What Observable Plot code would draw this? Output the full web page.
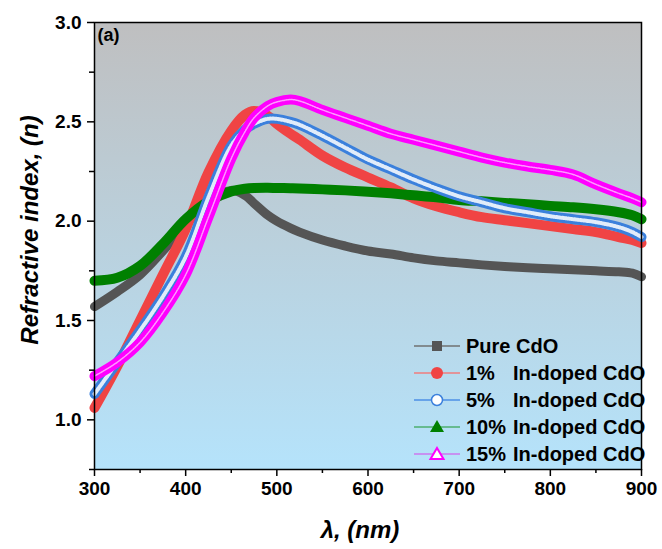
<!DOCTYPE html>
<html><head><meta charset="utf-8">
<script src="https://cdn.jsdelivr.net/npm/d3@7"></script>
<script src="https://cdn.jsdelivr.net/npm/@observablehq/plot@0.6"></script>
<style>
body{margin:0;background:#fff;}
#wrap{position:relative;width:662px;height:549px;}
</style></head><body><div id="wrap"></div>
<script>
const lambda = [300,325,350,375,400,425,450,465,475,490,500,515,525,550,575,600,625,650,675,700,725,750,775,800,825,850,875,890,900];
const pureCdO  = [1.57,1.645,1.73,1.85,1.98,2.10,2.155,2.13,2.09,2.03,2.00,1.965,1.945,1.905,1.875,1.85,1.835,1.815,1.80,1.79,1.78,1.772,1.765,1.76,1.755,1.75,1.745,1.738,1.72];
const doped1   = [1.06,1.27,1.50,1.73,1.96,2.245,2.455,2.535,2.555,2.53,2.49,2.44,2.41,2.33,2.27,2.22,2.17,2.115,2.075,2.045,2.02,2.005,1.99,1.975,1.96,1.945,1.92,1.905,1.89];
const doped5   = [1.13,1.29,1.45,1.62,1.82,2.12,2.38,2.46,2.49,2.515,2.515,2.50,2.485,2.43,2.37,2.31,2.26,2.21,2.165,2.125,2.095,2.065,2.045,2.025,2.01,1.995,1.97,1.945,1.92];
const doped10  = [1.70,1.715,1.775,1.885,2.01,2.10,2.15,2.163,2.167,2.168,2.167,2.166,2.165,2.16,2.155,2.148,2.14,2.13,2.12,2.107,2.10,2.092,2.085,2.077,2.07,2.06,2.045,2.03,2.01];
const doped15  = [1.22,1.29,1.39,1.54,1.73,2.02,2.315,2.45,2.52,2.58,2.60,2.612,2.605,2.56,2.52,2.48,2.44,2.41,2.38,2.35,2.32,2.295,2.275,2.258,2.235,2.185,2.14,2.115,2.095];

const seriesNames = ["Pure CdO","1%","5%","10%","15%"];
const legendSuffix = ["","In-doped CdO","In-doped CdO","In-doped CdO","In-doped CdO"];
const seriesColors = ["#555555","#f04444","#3b80dc","#008000","#ff00ff"];
const legendLineColors = ["#707070","#f07c7c","#4d8fe6","#4caf6f","#cc77ee"];

const xTicks = [300,400,500,600,700,800,900];
const xMinor = [350,450,550,650,750,850];
const yTicks = [1.0,1.5,2.0,2.5,3.0];
const yMinor = [0.75,1.25,1.75,2.25,2.75];

const rows = vals => lambda.map((x,i)=>({x, y: vals[i]}));
const allSeries = [pureCdO, doped1, doped5, doped10, doped15];

const defsMark = () => {
  const g = d3.create("svg:defs");
  const lg = g.append("linearGradient").attr("id","bgGrad").attr("x1",0).attr("y1",0).attr("x2",0).attr("y2",1);
  lg.append("stop").attr("offset","0%").attr("stop-color","rgb(191,191,192)");
  lg.append("stop").attr("offset","100%").attr("stop-color","rgb(181,227,251)");
  return g.node();
};

const legendMark = () => {
  const g = d3.create("svg:g").attr("text-anchor","start");
  const y0 = 346, step = 27;
  allSeries.forEach((s,i) => {
    const y = y0 + i*step;
    g.append("line").attr("x1",414).attr("x2",460).attr("y1",y).attr("y2",y)
      .attr("stroke",legendLineColors[i]).attr("stroke-width",1.5);
    const cx = 437;
    if (i===0) g.append("rect").attr("x",cx-5).attr("y",y-5).attr("width",10).attr("height",10).attr("fill","#555");
    if (i===1) g.append("circle").attr("cx",cx).attr("cy",y).attr("r",6).attr("fill","#f04444");
    if (i===2) g.append("circle").attr("cx",cx).attr("cy",y).attr("r",5.5).attr("fill","#fff").attr("stroke","#3b80dc").attr("stroke-width",1.5);
    if (i===3) g.append("path").attr("d",`M${cx},${y-7}L${cx+7},${y+5}L${cx-7},${y+5}Z`).attr("fill","#008000");
    if (i===4) g.append("path").attr("d",`M${cx},${y-6}L${cx+6.5},${y+5}L${cx-6.5},${y+5}Z`).attr("fill","#fff").attr("stroke","#ff00ff").attr("stroke-width",2);
    const t = g.append("text").attr("y",y+7).attr("font-size",20).attr("font-weight","bold").attr("fill","#000").attr("text-anchor","start");
    t.append("tspan").attr("x",466).text(seriesNames[i]);
    if (legendSuffix[i]) t.append("tspan").attr("x",513).text(legendSuffix[i]);
  });
  return g.node();
};

const lineOpts = (color, w) => ({x:"x", y:"y", stroke:color, strokeWidth:w, curve:"catmull-rom"});

const plot = Plot.plot({
  width:662, height:549,
  marginLeft:94, marginRight:21, marginTop:22, marginBottom:80,
  x:{domain:[300,900]},
  y:{domain:[0.75,3.0]},
  style:{fontFamily:"'Liberation Sans', Arial, sans-serif", fontWeight:"bold", fontSize:"19px", color:"#000", background:"#fff", overflow:"visible"},
  marks:[
    defsMark,
    Plot.frame({fill:"url(#bgGrad)"}),
    Plot.line(rows(pureCdO), lineOpts(seriesColors[0], 9)),
    Plot.line(rows(doped1), lineOpts(seriesColors[1], 10)),
    Plot.line(rows(doped10), lineOpts(seriesColors[3], 10)),
    Plot.line(rows(doped5), lineOpts(seriesColors[2], 10)),
    Plot.line(rows(doped5), {...lineOpts("#ffffff", 4), strokeDasharray:"1.5,1.5", strokeOpacity:0.85}),
    Plot.line(rows(doped15), lineOpts(seriesColors[4], 10)),
    Plot.line(rows(doped15), {...lineOpts("#ff99ff", 1.5), strokeDasharray:"1.5,1"}),
    Plot.frame({stroke:"#000", strokeWidth:1.5}),
    Plot.axisX({ticks:xTicks, tickSize:7, tickPadding:5, tickFormat:d=>String(d), label:null, strokeWidth:1.5}),
    Plot.axisX({ticks:xMinor, tickSize:4, tickFormat:()=>"", label:null, strokeWidth:1.5}),
    Plot.axisY({ticks:yTicks, tickSize:7, tickPadding:6, tickFormat:d3.format(".1f"), label:null, strokeWidth:1.5}),
    Plot.axisY({ticks:yMinor, tickSize:5, tickFormat:()=>"", label:null, strokeWidth:1.5}),
    Plot.text(["Refractive index, (n)"], {frameAnchor:"left", dx:-64, dy:-16, rotate:-90, textAnchor:"middle", lineAnchor:"middle", text:d=>d, fontSize:24, fontStyle:"italic", fontWeight:"bold", fill:"#000"}),
    Plot.text(["λ, (nm)"], {frameAnchor:"bottom", dx:-8, dy:61, textAnchor:"middle", lineAnchor:"middle", text:d=>d, fontSize:24, fontStyle:"italic", fontWeight:"bold", fill:"#000"}),
    Plot.text(["(a)"], {frameAnchor:"top-left", dx:3, dy:6, textAnchor:"start", lineAnchor:"top", text:d=>d, fontSize:18, fontWeight:"bold", fill:"#000"}),
    legendMark
  ]
});
document.getElementById("wrap").appendChild(plot);
</script></body></html>
